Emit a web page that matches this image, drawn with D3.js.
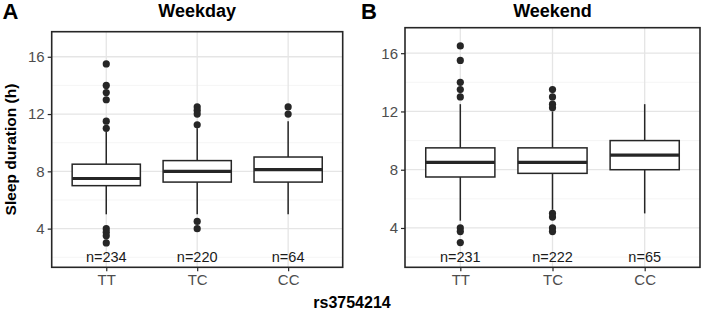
<!DOCTYPE html>
<html>
<head>
<meta charset="utf-8">
<script src="https://cdn.jsdelivr.net/npm/d3@7"></script>
<style>
  body { margin: 0; background: #fff; }
  text { font-family: "Liberation Sans", Arial, sans-serif; }
</style>
</head>
<body>
<svg id="chart" width="704" height="312"></svg>
<script>
// Genotipos y estadisticos de cada caja
const genotipos = ["TT", "TC", "CC"];
const paneles = ["Weekday", "Weekend"];
const letras = ["A", "B"];
const yTicks = [4, 8, 12, 16];
const yMinor = [2, 6, 10, 14];

const weekdayStats = [
  {g: "TT", lo: 5, q1: 7, med: 7.5, q3: 8.5, hi: 10.75, n: 234},
  {g: "TC", lo: 5, q1: 7.25, med: 8, q3: 8.75, hi: 11, n: 220},
  {g: "CC", lo: 5, q1: 7.25, med: 8.12, q3: 9, hi: 11.5, n: 64}
];
const weekdayOut = [
  {g: "TT", v: [15.5, 14, 13.5, 13, 11.5, 11, 4, 3.75, 3.5, 3]},
  {g: "TC", v: [12.5, 12.25, 12, 11.25, 4.5, 4]},
  {g: "CC", v: [12.5, 12]}
];
const weekendStats = [
  {g: "TT", lo: 4.5, q1: 7.5, med: 8.5, q3: 9.5, hi: 12.5, n: 231},
  {g: "TC", lo: 5.25, q1: 7.75, med: 8.5, q3: 9.5, hi: 12, n: 222},
  {g: "CC", lo: 5, q1: 8, med: 9, q3: 10, hi: 12.5, n: 65}
];
const weekendOut = [
  {g: "TT", v: [16.5, 15.5, 14, 13.5, 13, 4, 3.75, 3]},
  {g: "TC", v: [13.5, 13, 12.5, 12.25, 5, 4.75, 4, 3.75]},
  {g: "CC", v: []}
];

const svg = d3.select("#chart");
const dark = "#262626";

// Geometria de los dos paneles
const cajas = [
  {left: 51.7, right: 342.7, top: 31.7, bottom: 267.3, stats: weekdayStats, out: weekdayOut},
  {left: 405, right: 700, top: 27.7, bottom: 267.3, stats: weekendStats, out: weekendOut}
];

cajas.forEach((p, i) => {
  // ggplot: expansion discreta de 0.6 a cada lado
  const step = (p.right - p.left) / 3.2;
  const x = d3.scalePoint().domain(genotipos)
    .range([p.left + step * 0.6, p.right - step * 0.6]);
  const y = d3.scaleLinear().domain([1.3, 17.75]).range([p.bottom, p.top]);
  const bw = step * 0.75;

  const g = svg.append("g");

  // Rejilla
  g.selectAll(".minor").data(yMinor).enter().append("line")
    .attr("x1", p.left).attr("x2", p.right)
    .attr("y1", d => y(d)).attr("y2", d => y(d))
    .attr("stroke", "#f2f2f2").attr("stroke-width", 0.8);
  g.selectAll(".major").data(yTicks).enter().append("line")
    .attr("x1", p.left).attr("x2", p.right)
    .attr("y1", d => y(d)).attr("y2", d => y(d))
    .attr("stroke", "#e5e5e5").attr("stroke-width", 1.3);
  g.selectAll(".vgrid").data(genotipos).enter().append("line")
    .attr("x1", d => x(d)).attr("x2", d => x(d))
    .attr("y1", p.top).attr("y2", p.bottom)
    .attr("stroke", "#e5e5e5").attr("stroke-width", 1.3);

  // Bigotes
  g.selectAll(".whisk").data(p.stats).enter().append("line")
    .attr("x1", d => x(d.g)).attr("x2", d => x(d.g))
    .attr("y1", d => y(d.lo)).attr("y2", d => y(d.hi))
    .attr("stroke", dark).attr("stroke-width", 1.5);

  // Cajas
  g.selectAll(".box").data(p.stats).enter().append("rect")
    .attr("x", d => x(d.g) - bw / 2).attr("width", bw)
    .attr("y", d => y(d.q3)).attr("height", d => y(d.q1) - y(d.q3))
    .attr("fill", "#fff").attr("stroke", dark).attr("stroke-width", 1.5);

  g.selectAll(".med").data(p.stats).enter().append("line")
    .attr("x1", d => x(d.g) - bw / 2).attr("x2", d => x(d.g) + bw / 2)
    .attr("y1", d => y(d.med)).attr("y2", d => y(d.med))
    .attr("stroke", dark).attr("stroke-width", 3.2);

  // Atipicos
  p.out.forEach(o => {
    g.selectAll(null).data(o.v).enter().append("circle")
      .attr("cx", x(o.g)).attr("cy", d => y(d))
      .attr("r", 3.6).attr("fill", dark);
  });

  // Etiquetas n=
  g.selectAll(".nlab").data(p.stats).enter().append("text")
    .attr("x", d => x(d.g)).attr("y", y(2)).attr("dy", "0.36em")
    .attr("text-anchor", "middle").attr("font-size", 14.5).attr("fill", "#1a1a1a")
    .text(d => "n=" + d.n);

  // Borde del panel
  g.append("rect")
    .attr("x", p.left).attr("y", p.top)
    .attr("width", p.right - p.left).attr("height", p.bottom - p.top)
    .attr("fill", "none").attr("stroke", dark).attr("stroke-width", 1.6);

  // Ejes
  const ay = g.append("g").attr("transform", `translate(${p.left},0)`)
    .call(d3.axisLeft(y).tickValues(yTicks).tickSize(4).tickPadding(3));
  ay.select(".domain").remove();
  ay.selectAll("line").attr("stroke", dark).attr("stroke-width", 1.2);
  ay.selectAll("text").attr("font-size", 15).attr("fill", "#4d4d4d")
    .attr("font-family", "Liberation Sans, Arial, sans-serif");

  const ax = g.append("g").attr("transform", `translate(0,${p.bottom})`)
    .call(d3.axisBottom(x).tickSize(4).tickPadding(3));
  ax.select(".domain").remove();
  ax.selectAll("line").attr("stroke", dark).attr("stroke-width", 1.2);
  ax.selectAll("text").attr("font-size", 15).attr("fill", "#4d4d4d")
    .attr("font-family", "Liberation Sans, Arial, sans-serif");

  // Titulo y letra
  svg.append("text")
    .attr("x", (p.left + p.right) / 2).attr("y", 17)
    .attr("text-anchor", "middle").attr("font-size", 18).attr("font-weight", "bold")
    .text(paneles[i]);
  svg.append("text")
    .attr("x", i === 0 ? 2.5 : 361).attr("y", 18.5)
    .attr("font-size", 22).attr("font-weight", "bold")
    .text(letras[i]);
});

// Titulos de ejes
svg.append("text")
  .attr("transform", "translate(16,149.5) rotate(-90)")
  .attr("text-anchor", "middle").attr("font-size", 15.5).attr("font-weight", "bold")
  .text("Sleep duration (h)");
svg.append("text")
  .attr("x", 352).attr("y", 308)
  .attr("text-anchor", "middle").attr("font-size", 16).attr("font-weight", "bold")
  .text("rs3754214");
</script>
</body>
</html>
